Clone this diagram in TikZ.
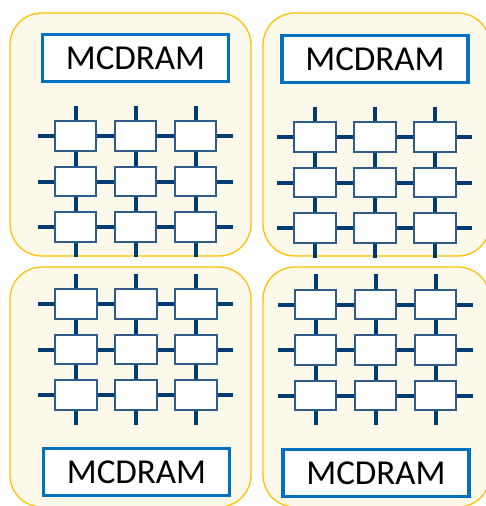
\documentclass[tikz,border=0pt]{standalone}
\usepackage{fontspec}
\setsansfont{Carlito}

\pgfdeclarelayer{back}
\pgfdeclarelayer{mid}
\pgfsetlayers{back,mid,main}

\definecolor{cream}{HTML}{FCF9EB}
\definecolor{amber}{HTML}{FFC000}
\definecolor{memblue}{HTML}{0070C0}
\definecolor{navy}{HTML}{003C71}
\definecolor{tileedge}{HTML}{2E5C8A}

\tikzset{
  quadrant/.style={draw=amber, fill=cream, line width=1.3pt, rounded corners=32pt},
  mcdram/.style={draw=memblue, line width=3.2pt, fill=white,
    minimum width=186pt, minimum height=47pt, inner sep=0pt,
    font=\sffamily\fontsize{35}{35}\selectfont},
  tile/.style={draw=tileedge, fill=white, line width=1.7pt,
    minimum width=41.5pt, minimum height=29.5pt, inner sep=0pt},
  mesh/.style={draw=navy, line width=4pt},
}

% 3x3 mesh of tiles: #1 name prefix, #2/#3 centre of the first tile
\newcommand\meshgrid[3]{%
  \foreach \r in {0,1,2}{%
    \foreach \c in {0,1,2}{%
      \node[tile] (#1-\r-\c) at ({#2+60*\c},{#3+45.5*\r}) {};
    }%
    \coordinate (#1-w\r) at ({#2-38},{#3+45.5*\r});
    \coordinate (#1-e\r) at ({#2+157},{#3+45.5*\r});
    \coordinate (#1-n\r) at ({#2+60*\r},{#3-30.5});
    \coordinate (#1-s\r) at ({#2+60*\r},{#3+120.5});
  }%
  \begin{pgfonlayer}{mid}
    \foreach \i in {0,1,2}{%
      \draw[mesh] (#1-w\i) -- (#1-\i-0);
      \draw[mesh] (#1-\i-0) -- (#1-\i-1);
      \draw[mesh] (#1-\i-1) -- (#1-\i-2);
      \draw[mesh] (#1-\i-2) -- (#1-e\i);
      \draw[mesh] (#1-n\i) -- (#1-0-\i);
      \draw[mesh] (#1-0-\i) -- (#1-1-\i);
      \draw[mesh] (#1-1-\i) -- (#1-2-\i);
      \draw[mesh] (#1-2-\i) -- (#1-s\i);
    }%
  \end{pgfonlayer}%
}

\begin{document}
\begin{tikzpicture}[x=1pt, y=-1pt]
  \useasboundingbox (0,0) rectangle (486,506);

  % four quadrants
  \begin{pgfonlayer}{back}
    \draw[quadrant] (10,13) rectangle (251,256);
    \draw[quadrant] (263,13) rectangle (490,256);
    \draw[quadrant] (10,267) rectangle (251,507);
    \draw[quadrant] (263,267) rectangle (490,507);
  \end{pgfonlayer}

  % memory blocks
  \node[mcdram] (memTL) at (135.5,58) {MCDRAM};
  \node[mcdram] (memTR) at (375,59) {MCDRAM};
  \node[mcdram] (memBL) at (136.5,472) {MCDRAM};
  \node[mcdram] (memBR) at (376,473) {MCDRAM};

  % tile meshes
  \meshgrid{tl}{75.5}{136}
  \meshgrid{tr}{315}{137}
  \meshgrid{bl}{76}{304}
  \meshgrid{br}{315.5}{304.5}
\end{tikzpicture}
\end{document}
